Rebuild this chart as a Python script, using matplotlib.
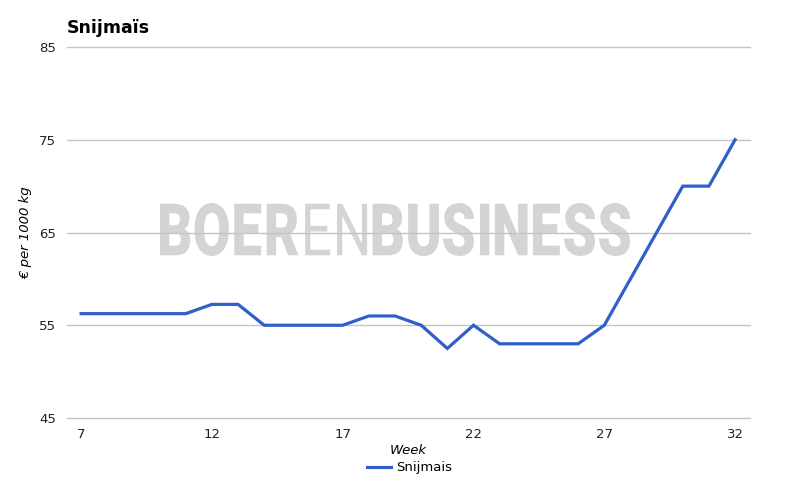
import matplotlib
matplotlib.use("Agg")
import matplotlib.pyplot as plt
from matplotlib.textpath import TextPath
from matplotlib.font_manager import FontProperties
from matplotlib.patches import PathPatch
from matplotlib.path import Path
from matplotlib.transforms import Affine2D
import numpy as np

weeks = list(range(7, 33))
prices = [56.25, 56.25, 56.25, 56.25, 56.25, 57.25, 57.25, 55, 55, 55, 55, 56, 56, 55,
          52.5, 55, 53, 53, 53, 53, 55, 60, 65, 70, 70, 75]
yticks = [45, 55, 65, 75, 85]
xticks = [7, 12, 17, 22, 27, 32]
title = "Snijmaïs"
series_name = "Snijmais"
watermark_parts = [("BOER", "heavy"), ("EN", "normal"), ("BUSINESS", "heavy")]

W, H = 803, 487
fig = plt.figure(figsize=(W/100, H/100), dpi=100)
ax = fig.add_axes([67/W, 1-418/H, (750-67)/W, (418-47)/H])

line_color = "#2f5fc9"
ax.plot(weeks, prices, color=line_color, lw=2.3, label=series_name, zorder=3,
        solid_joinstyle="miter")

ax.set_ylim(45, 85)
ax.set_xlim(6.46, 32.57)
ax.set_yticks(yticks)
ax.set_xticks(xticks)
ax.grid(axis="y", color="#c4c4c4", lw=1)
for gl in ax.get_ygridlines():
    gl.set_clip_on(False)
ax.set_axisbelow(True)
for s in ax.spines.values():
    s.set_visible(False)
ax.tick_params(length=0, labelsize=9.5, colors="#222222")
ax.tick_params(axis="y", pad=8)
ax.tick_params(axis="x", pad=7)

ax.set_xlabel("Week", fontstyle="italic", fontsize=9.5, labelpad=2)
ax.set_ylabel("€ per 1000 kg", fontstyle="italic", fontsize=9.5, labelpad=5)

fig.text(67/W, 1-28/H, title, fontsize=12.5, fontweight="bold", va="center", ha="left")

# watermark built letter by letter from text paths, scaled to box
verts, codes = [], []
x_off = 0.0
gap = 0.045
for txt, wt in watermark_parts:
    fp = FontProperties(family="Roboto", weight=wt)
    for ch in txt:
        tp = TextPath((0, 0), ch, size=1, prop=fp)
        v = tp.vertices.copy()
        x0, x1 = v[:, 0].min(), v[:, 0].max()
        v[:, 0] += x_off - x0
        verts.append(v)
        codes.append(tp.codes)
        x_off += (x1 - x0) + gap
path = Path(np.concatenate(verts), np.concatenate(codes))
allv = path.vertices
ex0, ex1 = allv[:, 0].min(), allv[:, 0].max()
ey0, ey1 = allv[:, 1].min(), allv[:, 1].max()
bx0, bx1, by_top, by_bot = 157, 630, 203, 256
sx = (bx1 - bx0) / W / (ex1 - ex0)
sy = (by_bot - by_top) / H / (ey1 - ey0)
tr = Affine2D().translate(-ex0, -ey0).scale(sx, sy).translate(bx0/W, 1-by_bot/H)
patch = PathPatch(path, transform=tr + fig.transFigure, facecolor="#d4d4d4",
                  edgecolor="none", zorder=0.2)
ax.add_patch(patch)

fig.legend(loc="center", bbox_to_anchor=(0.51, 1-468/H), frameon=False,
           fontsize=9.5, handlelength=1.8, handletextpad=0.4)

fig.savefig("out.png", dpi=100)
